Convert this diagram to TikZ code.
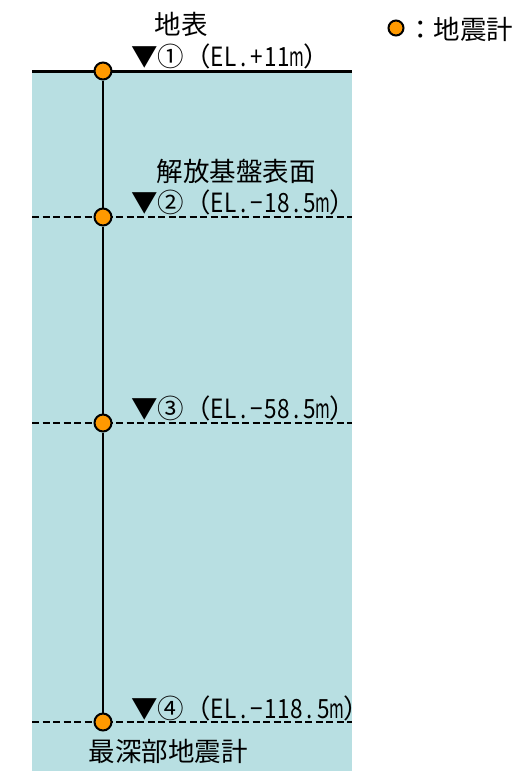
\documentclass[tikz,border=0pt]{standalone}
\usepackage{fontspec}
\usepackage{graphicx}
\setmainfont{Noto Sans CJK JP}
\newcommand\hc[2][0.85]{\makebox[0.5em][c]{\scalebox{#1}[1]{#2}}}
\definecolor{ground}{HTML}{B8DFE2}
\definecolor{seis}{HTML}{FF9900}
\begin{document}
\begin{tikzpicture}[x=1pt,y=-1pt,
  lbl/.style={font=\fontsize{26.5}{30}\selectfont, inner sep=0pt},
  seismo/.style={circle, draw=black, line width=2pt, fill=seis, minimum size=17pt, inner sep=0pt},
  level/.style={line width=2pt, dash pattern=on 7pt off 3.5pt},
]
\useasboundingbox (0,0) rectangle (517,771);
\fill[ground] (32,71) rectangle (352,771);
% levels
\coordinate (gL) at (32,71); \coordinate (gR) at (352,71);
\coordinate (l2L) at (32,217); \coordinate (l2R) at (352,217);
\coordinate (l3L) at (32,423); \coordinate (l3R) at (352,423);
\coordinate (l4L) at (32,722); \coordinate (l4R) at (352,722);
\draw[level] (l2L) -- (l2R);
\draw[level] (l3L) -- (l3R);
\draw[level] (l4L) -- (l4R);
\draw[line width=3pt] (gL) -- (gR);
% seismometers
\node[seismo] (s1) at (103,71) {};
\node[seismo] (s2) at (103,217) {};
\node[seismo] (s3) at (103,423) {};
\node[seismo] (s4) at (103,722) {};
\draw[line width=1.8pt] (s1) -- (s2);
\draw[line width=1.8pt] (s2) -- (s3);
\draw[line width=1.8pt] (s3) -- (s4);
% labels
\node[lbl] (t0) at (181,24) {地表};
\node[lbl, anchor=west] (t1) at (131,56) {▼①（\hc{E}\hc{L}\hc{.}\hc{+}\hc{1}\hc{1}\hc[0.6]{m}）};
\node[lbl] (t2) at (236,171) {解放基盤表面};
\node[lbl, anchor=west] (t3) at (131,202) {▼②（\hc{E}\hc{L}\hc{.}\hc{−}\hc{1}\hc{8}\hc{.}\hc{5}\hc[0.6]{m}）};
\node[lbl, anchor=west] (t4) at (131,408) {▼③（\hc{E}\hc{L}\hc{.}\hc{−}\hc{5}\hc{8}\hc{.}\hc{5}\hc[0.6]{m}）};
\node[lbl, anchor=west] (t5) at (131,708) {▼④（\hc{E}\hc{L}\hc{.}\hc{−}\hc{1}\hc{1}\hc{8}\hc{.}\hc{5}\hc[0.6]{m}）};
\node[lbl] (t6) at (168,751) {最深部地震計};
% legend
\node[seismo, minimum size=15pt] (leg) at (396,28) {};
\node[lbl, anchor=west] (legt) at (407,29) {：地震計};
\end{tikzpicture}
\end{document}
